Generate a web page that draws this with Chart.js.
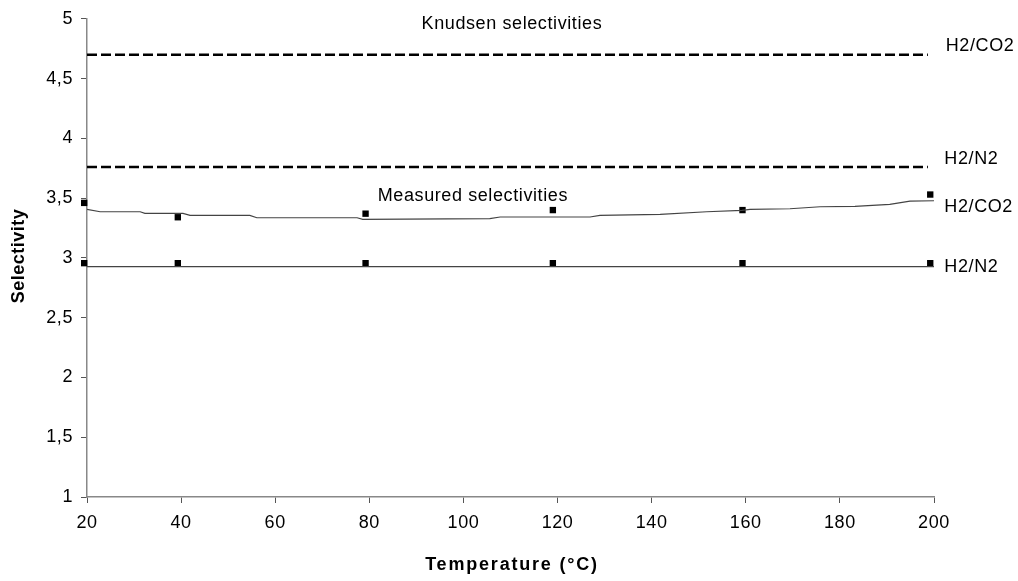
<!DOCTYPE html>
<html>
<head>
<meta charset="utf-8">
<script src="https://cdn.jsdelivr.net/npm/chart.js@4/dist/chart.umd.min.js"></script>
<style>
  body { margin: 0; background: #fff; }
</style>
</head>
<body>
<canvas id="myChart" width="1018" height="581"></canvas>
<script>
// temperatures (°C) of the measurements
var temps = [19.4, 39.3, 79.2, 119, 159.3, 199.2];
var measCO2 = [3.46, 3.34, 3.37, 3.40, 3.40, 3.53];
var measN2 = [2.956, 2.956, 2.956, 2.956, 2.956, 2.956];

// smoothed trend for H2/CO2
var fitCO2X = [20, 22.8, 31.3, 32.3, 40.4, 41.9, 54.6, 56.1, 77.4, 78.6, 105.6, 107.8, 126.9, 129, 141.8, 151.7, 159.2, 160.9, 169.4, 175.8, 183.2, 190.6, 194.9, 200];
var fitCO2Y = [3.406, 3.386, 3.386, 3.373, 3.373, 3.356, 3.356, 3.336, 3.336, 3.323, 3.328, 3.342, 3.342, 3.356, 3.364, 3.386, 3.398, 3.406, 3.411, 3.428, 3.431, 3.448, 3.475, 3.478];
var fitN2X = [20, 200];
var fitN2Y = [2.927, 2.927];

// Knudsen selectivities
var knudsenX = [20, 198.7];
var knudsenCO2 = 4.70;
var knudsenN2 = 3.76;

var yTicks = [1, 1.5, 2, 2.5, 3, 3.5, 4, 4.5, 5];

function pts(xs, ys) {
  return xs.map(function (x, i) { return { x: x, y: ys[i] }; });
}

var labels = [
  { text: "Knudsen selectivities", x: 110.3, y: 4.96, align: "center" },
  { text: "Measured selectivities", x: 102, y: 3.52, align: "center" },
  { text: "H2/CO2", x: 202.5, y: 4.77, align: "left" },
  { text: "H2/N2", x: 202.2, y: 3.83, align: "left" },
  { text: "H2/CO2", x: 202.2, y: 3.425, align: "left" },
  { text: "H2/N2", x: 202.2, y: 2.92, align: "left" }
];

var FAM = "'Liberation Sans', Arial, sans-serif";

var textPlugin = {
  id: "textPlugin",
  beforeDraw: function (chart) {
    // the original's type is set slightly wider
    chart.ctx.letterSpacing = "0.6px";
  },
  afterDatasetsDraw: function (chart) {
    var c = chart.ctx;
    var xs = chart.scales.x, ys = chart.scales.y;
    c.save();
    c.font = "18px " + FAM;
    c.letterSpacing = "0.6px";
    c.fillStyle = "#000";
    c.textBaseline = "middle";
    labels.forEach(function (l) {
      c.textAlign = l.align;
      c.fillText(l.text, xs.getPixelForValue(l.x), ys.getPixelForValue(l.y));
    });

    // axis titles
    c.font = "bold 18px " + FAM;
    c.textAlign = "center";
    c.letterSpacing = "1.8px";
    c.fillText("Temperature (°C)", 512, 565);
    c.translate(19, 256);
    c.rotate(-Math.PI / 2);
    c.letterSpacing = "0.5px";
    c.fillText("Selectivity", 0, 0);
    c.restore();
  }
};

var data = {
  datasets: [
    {
      data: pts(knudsenX, [knudsenCO2, knudsenCO2]),
      borderColor: "#000",
      borderWidth: 2.5,
      borderDash: [10, 4],
      pointRadius: 0,
      showLine: true
    },
    {
      data: pts(knudsenX, [knudsenN2, knudsenN2]),
      borderColor: "#000",
      borderWidth: 2.5,
      borderDash: [10, 4],
      pointRadius: 0,
      showLine: true
    },
    {
      data: pts(fitCO2X, fitCO2Y),
      borderColor: "#444",
      borderWidth: 1.2,
      pointRadius: 0,
      showLine: true
    },
    {
      data: pts(fitN2X, fitN2Y),
      borderColor: "#444",
      borderWidth: 1.2,
      pointRadius: 0,
      showLine: true
    },
    {
      data: pts(temps, measCO2),
      pointStyle: "rect",
      pointRadius: 4.5,
      backgroundColor: "#000",
      borderColor: "#000",
      borderWidth: 0,
      showLine: false,
      clip: false
    },
    {
      data: pts(temps, measN2),
      pointStyle: "rect",
      pointRadius: 4.5,
      backgroundColor: "#000",
      borderColor: "#000",
      borderWidth: 0,
      showLine: false,
      clip: false
    }
  ]
};

var tickFont = { family: FAM, size: 18 };

var options = {
  responsive: false,
  animation: false,
  layout: { padding: { top: 17, right: 84, left: 0, bottom: 0 } },
  plugins: {
    legend: { display: false },
    tooltip: { enabled: false }
  },
  scales: {
    x: {
      type: "linear",
      min: 20,
      max: 200,
      afterFit: function (s) { s.height = 84; },
      border: { color: "#888", width: 1.5 },
      grid: { drawOnChartArea: false, drawTicks: true, tickLength: 6, color: "#555" },
      ticks: { stepSize: 20, color: "#000", font: tickFont, padding: 9 }
    },
    y: {
      min: 1,
      max: 5,
      afterFit: function (s) { s.width = 87; },
      afterBuildTicks: function (s) { s.ticks = yTicks.map(function (v) { return { value: v }; }); },
      border: { color: "#888", width: 1.5 },
      grid: { drawOnChartArea: false, drawTicks: true, tickLength: 6, color: "#555" },
      ticks: {
        color: "#000",
        font: tickFont,
        padding: 8,
        callback: function (v) { return String(v).replace(".", ","); }
      }
    }
  }
};

const ctx = document.getElementById("myChart").getContext("2d");
const myChart = new Chart(ctx, {
  type: "scatter",
  data: data,
  options: options,
  plugins: [textPlugin]
});
</script>
</body>
</html>
